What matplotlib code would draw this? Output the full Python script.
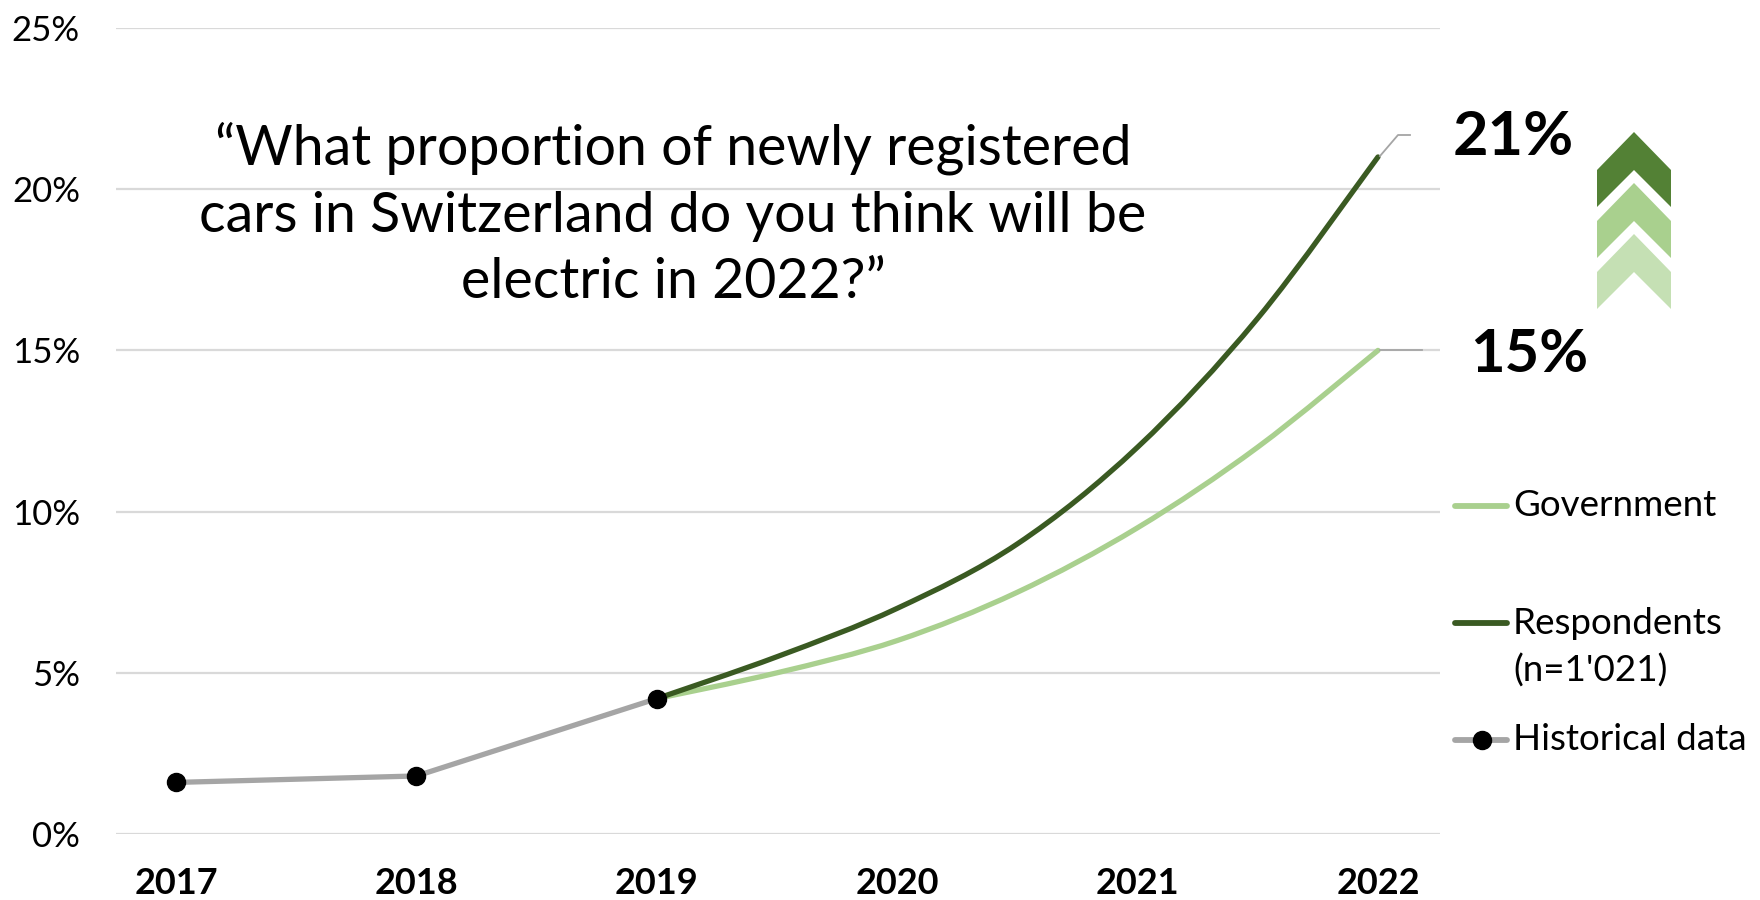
import numpy as np
import matplotlib
matplotlib.use("Agg")
import matplotlib.pyplot as plt
from matplotlib.path import Path
from matplotlib.patches import PathPatch, Polygon
from matplotlib.lines import Line2D

plt.rcParams["font.family"] = ["Lato", "DejaVu Sans"]

# data
hist_years = [2017, 2018, 2019]
hist_share = [1.6, 1.8, 4.2]
proj_years = [2019, 2019.5, 2020, 2020.5, 2021, 2021.5, 2022]
gov_share = [4.2, 5.0, 6.0, 7.5, 9.5, 12.0, 15.0]
resp_share = [4.2, 5.5, 7.0, 9.0, 12.0, 16.0, 21.0]
year_ticks = [2017, 2018, 2019, 2020, 2021, 2022]
pct_ticks = [0, 5, 10, 15, 20, 25]

QUESTION = ("\u201cWhat proportion of newly registered\n"
            "cars in Switzerland do you think will be\n"
            "electric in 2022?\u201d")

GOV_C = "#a9d08e"
RESP_C = "#3a5a22"
HIST_C = "#a5a5a5"
GRID_C = "#d9d9d9"

W, H = 1760, 900


def smooth_path(xs, ys):
    # excel-style smoothed line: cubic bezier through every point
    p = np.column_stack([xs, ys]).astype(float)
    n = len(p)
    verts = [p[0]]
    codes = [Path.MOVETO]
    for i in range(n - 1):
        prev = p[i - 1] if i > 0 else p[i]
        nxt = p[i + 2] if i + 2 < n else p[i + 1]
        c1 = p[i] + (p[i + 1] - prev) / 6.0
        c2 = p[i + 1] - (nxt - p[i]) / 6.0
        verts += [c1, c2, p[i + 1]]
        codes += [Path.CURVE4] * 3
    return Path(verts, codes)


fig = plt.figure(figsize=(W / 100, H / 100), dpi=100)
ax = fig.add_axes([116 / W, 66 / H, (1440 - 116) / W, (834 - 28) / H])
ax.set_xlim(2016.75, 2022.258)
ax.set_ylim(0, 25)

for v in pct_ticks:
    ax.axhline(v, color=GRID_C, lw=1.6, zorder=0)

ax.add_patch(PathPatch(smooth_path(proj_years, gov_share), fill=False,
                       ec=GOV_C, lw=3.8, capstyle="round", zorder=2))
ax.add_patch(PathPatch(smooth_path(proj_years, resp_share), fill=False,
                       ec=RESP_C, lw=3.8, capstyle="round", zorder=3))
ax.plot(hist_years, hist_share, color=HIST_C, lw=3.8, marker="o",
        ms=13, mfc="black", mec="black", zorder=4)

ax.set_xticks(year_ticks)
ax.set_xticklabels([str(y) for y in year_ticks], fontsize=26, fontweight="bold")
ax.set_yticks(pct_ticks)
ax.set_yticklabels(["%d%%" % v for v in pct_ticks], fontsize=25)
ax.tick_params(length=0)
ax.tick_params(axis="x", pad=24)
ax.tick_params(axis="y", pad=26)
for s in ax.spines.values():
    s.set_visible(False)

# leader lines to the end labels (pixel overlay)
ov = fig.add_axes([0, 0, 1, 1], facecolor="none")
ov.set_xlim(0, W)
ov.set_ylim(H, 0)
ov.axis("off")

ov.plot([1380, 1398, 1410], [156, 135, 135], color=HIST_C, lw=1.3)
ov.plot([1380, 1422], [350, 350], color=HIST_C, lw=1.3)
ov.text(1453, 137, "21%", fontsize=44, fontweight="bold", ha="left", va="center")
ov.text(1470, 355, "15%", fontsize=43, fontweight="bold", ha="left", va="center")

ov.text(673, 215, QUESTION, fontsize=40, ha="center", va="center",
        linespacing=1.38)

# chevrons
chev_colors = ["#538135", "#a9d08e", "#c5e0b4"]
for k, c in enumerate(chev_colors):
    ys = 170 + 51 * k
    x0, xc, x1 = 1597, 1634, 1671
    ov.add_patch(Polygon([(x0, ys), (xc, ys - 38), (x1, ys), (x1, ys + 37),
                          (xc, ys), (x0, ys + 37)], closed=True, fc=c, ec="none"))

# legend
ov.add_line(Line2D([1455, 1507], [506, 506], color=GOV_C, lw=4.2,
                   solid_capstyle="round"))
ov.text(1513, 506, "Government", fontsize=26.5, ha="left", va="center")
ov.add_line(Line2D([1455, 1507], [623, 623], color=RESP_C, lw=4.2,
                   solid_capstyle="round"))
ov.text(1513, 623, "Respondents", fontsize=26.5, ha="left", va="center")
ov.text(1513, 671, "(n=1'021)", fontsize=26.5, ha="left", va="center")
ov.add_line(Line2D([1455, 1507], [740, 740], color=HIST_C, lw=4.2,
                   solid_capstyle="round"))
ov.plot([1482], [740], marker="o", ms=13, color="black")
ov.text(1513, 740, "Historical data", fontsize=26.5, ha="left", va="center")

fig.savefig("out.png", dpi=100, facecolor="white")
